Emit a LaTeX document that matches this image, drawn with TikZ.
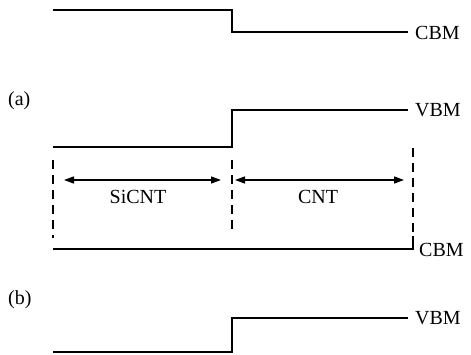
\documentclass[tikz,border=0pt]{standalone}
\usepackage{fontspec}
\setmainfont{Liberation Serif}
\usetikzlibrary{arrows.meta}
\begin{document}
\begin{tikzpicture}[x=1pt,y=-1pt,
  band/.style={line width=2pt},
  bound/.style={line width=1.8pt,dash pattern=on 9pt off 6pt},
  span/.style={line width=1.3pt,{Triangle[length=10pt,width=7pt]}-{Triangle[length=10pt,width=7pt]}},
  lbl/.style={font=\fontsize{20}{20}\selectfont,inner sep=0pt}]
\useasboundingbox (0,0) rectangle (471,354);

% panel (a): conduction band offset
\coordinate (a1) at (53,10);
\coordinate (a2) at (232,10);
\coordinate (a3) at (232,32);
\coordinate (a4) at (408,32);
\draw[band] (a1) -- (a2) -- (a3) -- (a4);
\node[lbl,anchor=west] (cbma) at (415,33) {CBM};

\node[lbl,anchor=west] (pa) at (8,101) {(a)};

% panel (a): valence band offset
\coordinate (v1) at (53,147);
\coordinate (v2) at (232,147);
\coordinate (v3) at (232,110);
\coordinate (v4) at (408,110);
\draw[band] (v1) -- (v2) -- (v3) -- (v4);
\node[lbl,anchor=west] (vbma) at (415,110) {VBM};

% region boundaries
\coordinate (d1t) at (53,160);
\coordinate (d1b) at (53,238);
\coordinate (d2t) at (232,160);
\coordinate (d2b) at (232,234);
\coordinate (d3t) at (413,148);
\coordinate (d3b) at (413,232);
\draw[bound] (d1t) -- (d1b);
\draw[bound] (d2t) -- (d2b);
\draw[bound] (d3t) -- (d3b);

% region widths
\coordinate (s1) at (64,180);
\coordinate (s2) at (221,180);
\coordinate (c1) at (235,180);
\coordinate (c2) at (404,180);
\draw[span] (s1) -- (s2);
\draw[span] (c1) -- (c2);
\node[lbl] (sicnt) at (138,197) {SiCNT};
\node[lbl] (cnt) at (318,197) {CNT};

% panel (b): conduction band, no offset
\coordinate (b1) at (53,249);
\coordinate (b2) at (413,249);
\coordinate (b3) at (413,236);
\draw[band] (b1) -- (b2) -- (b3);
\node[lbl,anchor=west] (cbmb) at (419,250) {CBM};

\node[lbl,anchor=west] (pb) at (8,300) {(b)};

% panel (b): valence band offset
\coordinate (w1) at (53,352);
\coordinate (w2) at (232,352);
\coordinate (w3) at (232,318);
\coordinate (w4) at (408,318);
\draw[band] (w1) -- (w2) -- (w3) -- (w4);
\node[lbl,anchor=west] (vbmb) at (415,318) {VBM};
\end{tikzpicture}
\end{document}
